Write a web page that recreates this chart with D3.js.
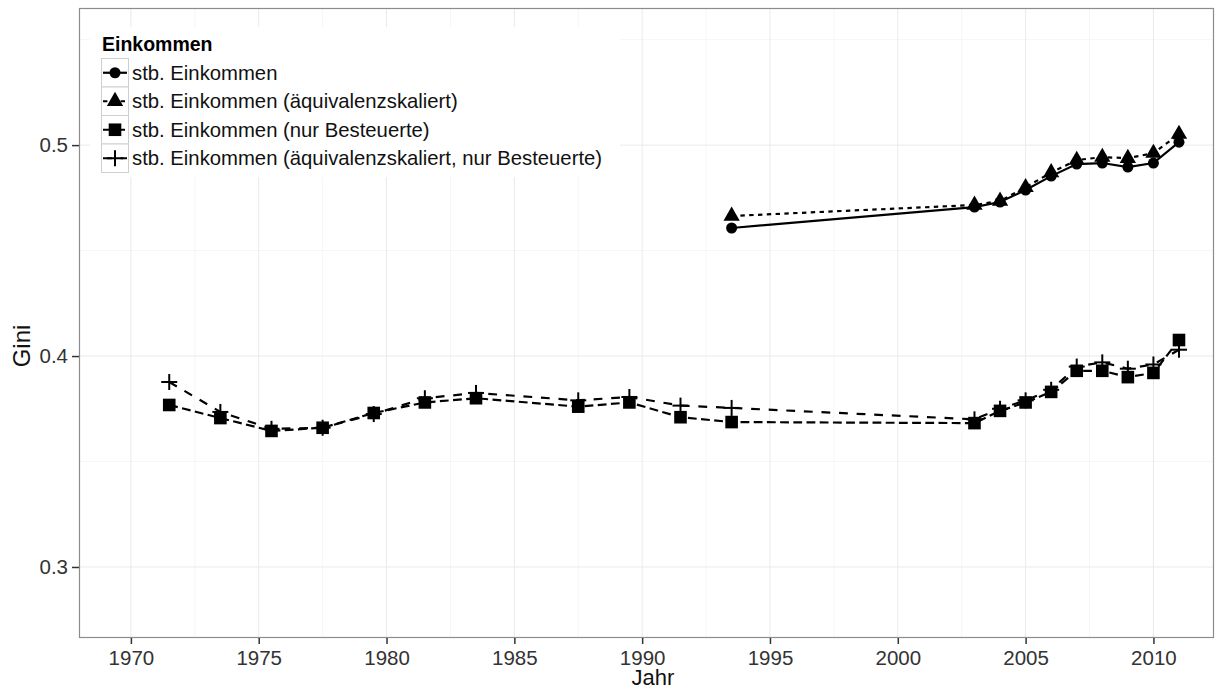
<!DOCTYPE html>
<html>
<head>
<meta charset="utf-8">
<script src="https://cdn.jsdelivr.net/npm/d3@7"></script>
<style>
  html, body { margin: 0; padding: 0; background: #fff; }
  svg { display: block; font-family: "Liberation Sans", Arial, sans-serif; }
</style>
</head>
<body>
<svg id="chart" width="1223" height="691"></svg>
<script>
// ---- data ----
const yearsTop = [1993.5, 2003, 2004, 2005, 2006, 2007, 2008, 2009, 2010, 2011];
const giniEinkommen = [0.4607, 0.4706, 0.4730, 0.4787, 0.4853, 0.4910, 0.4915, 0.4896, 0.4915, 0.5014];
const giniAequiv = [0.4664, 0.4716, 0.4735, 0.4800, 0.4870, 0.4929, 0.4943, 0.4938, 0.4962, 0.5052];

const yearsBottom = [1971.5, 1973.5, 1975.5, 1977.5, 1979.5, 1981.5, 1983.5, 1987.5, 1989.5, 1991.5, 1993.5,
                     2003, 2004, 2005, 2006, 2007, 2008, 2009, 2010, 2011];
const giniBesteuert = [0.3768, 0.3706, 0.3645, 0.3660, 0.3730, 0.3780, 0.3800, 0.3760, 0.3780, 0.3710, 0.3687,
                       0.3682, 0.3740, 0.3780, 0.3830, 0.3930, 0.3930, 0.3900, 0.3920, 0.4076];
const giniAequivBesteuert = [0.3877, 0.3735, 0.3655, 0.3660, 0.3725, 0.3800, 0.3825, 0.3790, 0.3806, 0.3765, 0.3754,
                             0.3700, 0.3750, 0.3790, 0.3840, 0.3950, 0.3970, 0.3940, 0.3960, 0.4030];

const seriesNames = [
  "stb. Einkommen",
  "stb. Einkommen (äquivalenzskaliert)",
  "stb. Einkommen (nur Besteuerte)",
  "stb. Einkommen (äquivalenzskaliert, nur Besteuerte)"
];
const legendTitle = "Einkommen";
const xTicks = [1970, 1975, 1980, 1985, 1990, 1995, 2000, 2005, 2010];
const xMinor = [1967.5, 1972.5, 1977.5, 1982.5, 1987.5, 1992.5, 1997.5, 2002.5, 2007.5, 2012.5];
const yTicks = [0.3, 0.4, 0.5];
const yMinor = [0.35, 0.45, 0.55];
const xTitle = "Jahr";
const yTitle = "Gini";

// ---- layout ----
const P = { left: 79, right: 1214, top: 8, bottom: 637 };
const svg = d3.select("#chart");
const x = d3.scaleLinear().domain([1967.97, 2012.37]).range([P.left, P.right]);
const y = d3.scaleLinear().domain([0.2668, 0.5650]).range([P.bottom, P.top]);

const LW = 2.2;
const styles = [
  { dash: null, shape: "circle" },
  { dash: [LW * 2, LW * 2], shape: "triangle" },
  { dash: [LW * 4, LW * 2], shape: "square" },
  { dash: [LW * 4, LW * 4], shape: "plus" }
];

const series = [
  { name: seriesNames[0], years: yearsTop, values: giniEinkommen, st: styles[0] },
  { name: seriesNames[1], years: yearsTop, values: giniAequiv, st: styles[1] },
  { name: seriesNames[2], years: yearsBottom, values: giniBesteuert, st: styles[2] },
  { name: seriesNames[3], years: yearsBottom, values: giniAequivBesteuert, st: styles[3] }
];

// panel background
svg.append("rect").attr("x", P.left).attr("y", P.top)
  .attr("width", P.right - P.left).attr("height", P.bottom - P.top).attr("fill", "#fff");

svg.append("clipPath").attr("id", "clip").append("rect")
  .attr("x", P.left).attr("y", P.top).attr("width", P.right - P.left).attr("height", P.bottom - P.top);

const grid = svg.append("g").attr("clip-path", "url(#clip)");
grid.selectAll(".xmin").data(xMinor).join("line")
  .attr("x1", d => x(d)).attr("x2", d => x(d)).attr("y1", P.top).attr("y2", P.bottom)
  .attr("stroke", "#f6f6f6").attr("stroke-width", 1);
grid.selectAll(".ymin").data(yMinor).join("line")
  .attr("y1", d => y(d)).attr("y2", d => y(d)).attr("x1", P.left).attr("x2", P.right)
  .attr("stroke", "#f6f6f6").attr("stroke-width", 1);
grid.selectAll(".xmaj").data(xTicks).join("line")
  .attr("x1", d => x(d)).attr("x2", d => x(d)).attr("y1", P.top).attr("y2", P.bottom)
  .attr("stroke", "#eaeaea").attr("stroke-width", 1);
grid.selectAll(".ymaj").data(yTicks).join("line")
  .attr("y1", d => y(d)).attr("y2", d => y(d)).attr("x1", P.left).attr("x2", P.right)
  .attr("stroke", "#eaeaea").attr("stroke-width", 1);

// symbols
function drawSymbol(g, shape, cx, cy, scale) {
  const s = scale || 1;
  if (shape === "circle") {
    g.append("circle").attr("cx", cx).attr("cy", cy).attr("r", 5.5 * s).attr("fill", "#000");
  } else if (shape === "triangle") {
    g.append("path").attr("transform", `translate(${cx},${cy})`)
      .attr("d", d3.symbol().type(d3.symbolTriangle).size(115 * s * s)()).attr("fill", "#000");
  } else if (shape === "square") {
    const h = 6.3 * s;
    g.append("rect").attr("x", cx - h).attr("y", cy - h).attr("width", 2 * h).attr("height", 2 * h).attr("fill", "#000");
  } else if (shape === "plus") {
    const h = 8 * s;
    g.append("line").attr("x1", cx - h).attr("x2", cx + h).attr("y1", cy).attr("y2", cy)
      .attr("stroke", "#000").attr("stroke-width", 2);
    g.append("line").attr("x1", cx).attr("x2", cx).attr("y1", cy - h).attr("y2", cy + h)
      .attr("stroke", "#000").attr("stroke-width", 2);
  }
}

const line = d3.line().x(d => x(d[0])).y(d => y(d[1]));
const marks = svg.append("g").attr("clip-path", "url(#clip)");
series.forEach(s => {
  const pts = s.years.map((yr, i) => [yr, s.values[i]]);
  marks.append("path").datum(pts).attr("d", line)
    .attr("fill", "none").attr("stroke", "#000").attr("stroke-width", LW)
    .attr("stroke-dasharray", s.st.dash ? s.st.dash.join(",") : null);
});
series.forEach(s => {
  const g = marks.append("g");
  s.years.forEach((yr, i) => drawSymbol(g, s.st.shape, x(yr), y(s.values[i])));
});

// panel border
svg.append("rect").attr("x", P.left + 0.5).attr("y", P.top + 0.5)
  .attr("width", P.right - P.left - 1).attr("height", P.bottom - P.top)
  .attr("fill", "none").attr("stroke", "#8c8c8c").attr("stroke-width", 1.2);

// axes
const xAxis = svg.append("g").attr("transform", `translate(0,${P.bottom + 1})`)
  .call(d3.axisBottom(x).tickValues(xTicks).tickFormat(d3.format("d")).tickSize(6).tickPadding(6));
const yAxis = svg.append("g").attr("transform", `translate(${P.left},0)`)
  .call(d3.axisLeft(y).tickValues(yTicks).tickFormat(d3.format(".1f")).tickSize(7).tickPadding(4));
[xAxis, yAxis].forEach(a => {
  a.select(".domain").remove();
  a.selectAll(".tick line").attr("stroke", "#333").attr("stroke-width", 1.5);
  a.selectAll(".tick text").attr("fill", "#333").style("font-size", "20.5px")
    .style("font-family", '"Liberation Sans", Arial, sans-serif');
});

svg.append("text").attr("x", 653).attr("y", 685).attr("text-anchor", "middle")
  .style("font-size", "22px").attr("fill", "#111").text(xTitle);
svg.append("text").attr("transform", "translate(30,346) rotate(-90)").attr("text-anchor", "middle")
  .style("font-size", "24px").attr("fill", "#111").text(yTitle);

// legend
const lg = svg.append("g");
lg.append("rect").attr("x", 90).attr("y", 27).attr("width", 530).attr("height", 150).attr("fill", "#fff");
lg.append("text").attr("x", 102).attr("y", 51).style("font-size", "19.5px").style("font-weight", "bold")
  .attr("fill", "#000").text(legendTitle);
const keyTop = 58, keyH = 28.5, keyX = 101, keyW = 27;
series.forEach((s, i) => {
  const ky = keyTop + i * keyH;
  lg.append("rect").attr("x", keyX + 0.5).attr("y", ky + 0.5).attr("width", keyW).attr("height", keyH)
    .attr("fill", "#fff").attr("stroke", "#cfcfcf").attr("stroke-width", 1);
  const cy = ky + keyH / 2 + 0.5;
  lg.append("line").attr("x1", keyX + 2).attr("x2", keyX + keyW - 1).attr("y1", cy).attr("y2", cy)
    .attr("stroke", "#000").attr("stroke-width", LW)
    .attr("stroke-dasharray", s.st.dash ? s.st.dash.join(",") : null);
  drawSymbol(lg, s.st.shape, keyX + keyW / 2 + 0.5, cy, 1);
  lg.append("text").attr("x", 132).attr("y", cy + 7).style("font-size", "20.3px")
    .attr("fill", "#111").text(s.name);
});
</script>
</body>
</html>
